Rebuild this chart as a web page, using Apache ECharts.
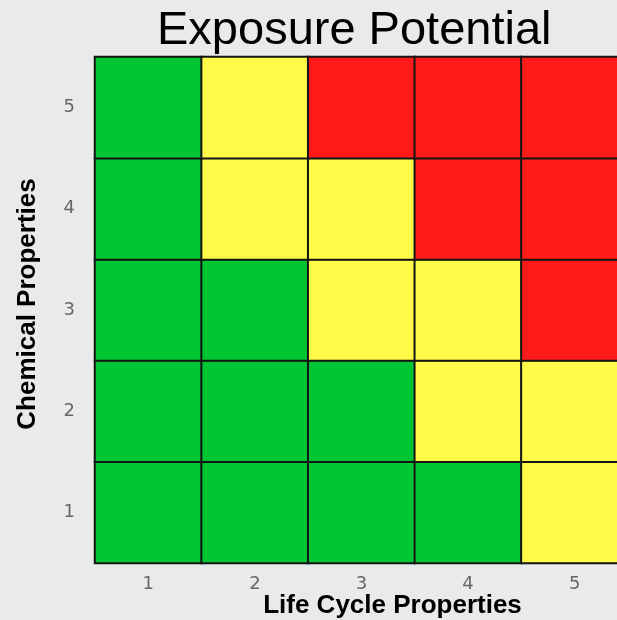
<!DOCTYPE html>
<html>
<head>
<meta charset="utf-8">
<script src="https://cdn.jsdelivr.net/npm/echarts@6/dist/echarts.min.js"></script>
<style>
html,body{margin:0;padding:0;background:#e9ebea;}
#chart{width:617px;height:620px;}
</style>
</head>
<body>
<div id="chart"></div>
<script>
// Categories
const lifeCycle = ['1', '2', '3', '4', '5'];
const chemical = ['1', '2', '3', '4', '5'];
// Risk level per cell (1 = low/green, 2 = medium/yellow, 3 = high/red), rows from chemical 1 to 5
const row1 = [1, 1, 1, 1, 2];
const row2 = [1, 1, 1, 2, 2];
const row3 = [1, 1, 2, 2, 3];
const row4 = [1, 2, 2, 3, 3];
const row5 = [1, 2, 3, 3, 3];
const rows = [row1, row2, row3, row4, row5];

const data = [];
rows.forEach((r, yi) => r.forEach((v, xi) => data.push([xi, yi, v])));

const chart = echarts.init(document.getElementById('chart'), null, {renderer: 'canvas'});
chart.setOption({
  backgroundColor: '#e9ebea',
  animation: false,
  title: {
    text: 'Exposure Potential',
    left: 152,
    top: 3,
    textStyle: {fontFamily: 'Liberation Sans, Arial, sans-serif', fontSize: 47, fontWeight: 'normal', color: '#000'}
  },
  grid: {left: 95, right: -11, top: 57, bottom: 57, containLabel: false, outerBoundsMode: 'none'},
  xAxis: {
    type: 'category',
    data: lifeCycle,
    name: 'Life Cycle Properties',
    nameLocation: 'middle',
    nameGap: 30,
    nameMoveOverlap: false,
    nameTextStyle: {fontFamily: 'Liberation Sans, Arial, sans-serif', fontSize: 26, fontWeight: 'bold', color: '#000', padding: [0, 0, 0, 62]},
    axisLine: {show: false},
    axisTick: {show: false},
    splitLine: {show: false},
    axisLabel: {fontFamily: 'DejaVu Sans, sans-serif', fontSize: 18, color: '#666', margin: 12}
  },
  yAxis: {
    type: 'category',
    data: chemical,
    name: 'Chemical Properties',
    nameLocation: 'middle',
    nameGap: 54,
    nameMoveOverlap: false,
    nameTextStyle: {fontFamily: 'Liberation Sans, Arial, sans-serif', fontSize: 26, fontWeight: 'bold', color: '#000', padding: [0, 0, 0, 12]},
    axisLine: {show: false},
    axisTick: {show: false},
    splitLine: {show: false},
    axisLabel: {fontFamily: 'DejaVu Sans, sans-serif', fontSize: 18, color: '#666', margin: 20}
  },
  visualMap: {
    show: false,
    type: 'piecewise',
    dimension: 2,
    pieces: [
      {value: 1, color: '#00c634'},
      {value: 2, color: '#fffb48'},
      {value: 3, color: '#ff1a1a'}
    ]
  },
  series: [{
    type: 'heatmap',
    data: data,
    itemStyle: {borderColor: '#141414', borderWidth: 2},
    emphasis: {disabled: true}
  }]
});
</script>
</body>
</html>
